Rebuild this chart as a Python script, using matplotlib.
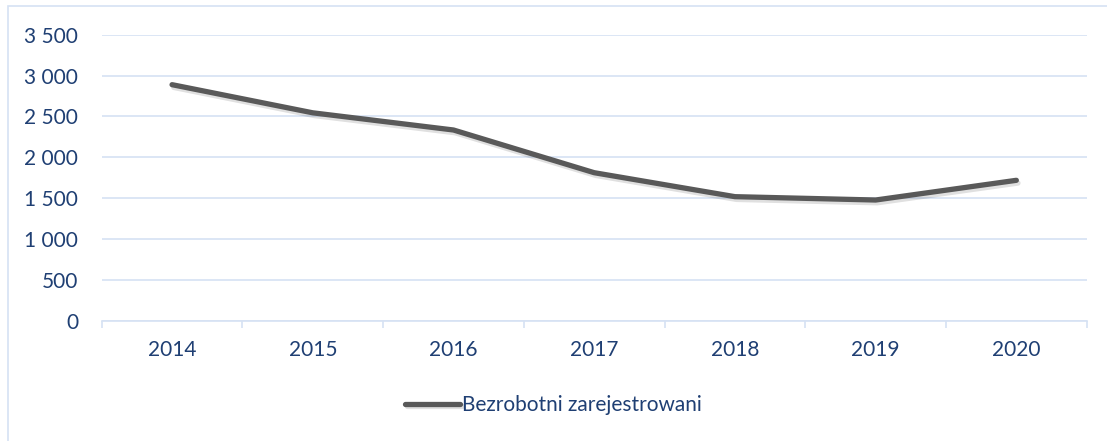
import numpy as np
import matplotlib
matplotlib.use("Agg")
from matplotlib import pyplot as plt
from matplotlib import patheffects as pe
from matplotlib.ticker import FuncFormatter, FixedLocator

years = ["2014", "2015", "2016", "2017", "2018", "2019", "2020"]
unemployed = [2889, 2545, 2335, 1813, 1520, 1479, 1720]
series_name = "Bezrobotni zarejestrowani"

text_col = "#1F3F73"
grid_col = "#D6E2F3"
line_col = "#595959"

plt.rcParams['font.family'] = ['Lato', 'DejaVu Sans']

fig = plt.figure(figsize=(11.07, 4.41), dpi=100)
W, H = 1107, 441
ax = fig.add_axes([101.7 / W, 1 - 321 / H, (1086.7 - 101.7) / W, (321 - 34.7) / H])

# outer chart border (only top/left visible in the reference)
border = plt.Rectangle((7.5 / W, -0.05), 1.2, 1 - 5.7 / H + 0.05, transform=fig.transFigure,
                       fill=False, edgecolor=grid_col, linewidth=1.2)
fig.patches.append(border)

x = np.arange(len(years))
ax.plot(x, unemployed, color=line_col, linewidth=3.8, solid_capstyle="round",
        solid_joinstyle="round", label=series_name,
        path_effects=[pe.SimpleLineShadow(offset=(1.2, -2.0), shadow_color="k", alpha=0.12),
                      pe.Normal()])

ax.set_xlim(-0.5, len(years) - 0.5)
ax.set_ylim(0, 3500)
ax.set_yticks(np.arange(0, 3501, 500))
ax.yaxis.set_major_formatter(FuncFormatter(lambda v, p: f"{int(v):,}".replace(",", " ")))
ax.set_xticks(x)
ax.set_xticklabels(years)
ax.xaxis.set_minor_locator(FixedLocator(np.arange(-0.5, len(years), 1)))

ax.grid(axis="y", color=grid_col, linewidth=1.2)
ax.set_axisbelow(True)
for s in ["top", "right", "left"]:
    ax.spines[s].set_visible(False)
ax.spines["bottom"].set_color(grid_col)
ax.spines["bottom"].set_linewidth(1.2)

ax.tick_params(axis="y", length=0, pad=17, labelsize=15, labelcolor=text_col)
ax.tick_params(axis="x", which="major", length=0, pad=14, labelsize=15, labelcolor=text_col)
ax.tick_params(axis="x", which="minor", length=5, width=1.2, color=grid_col)

leg = fig.legend(loc="center", bbox_to_anchor=(0.5, 1 - 405 / H), frameon=False,
                 handlelength=2.65, handletextpad=0.1, fontsize=15)
for t in leg.get_texts():
    t.set_color(text_col)

fig.savefig("out.png", dpi=100)
